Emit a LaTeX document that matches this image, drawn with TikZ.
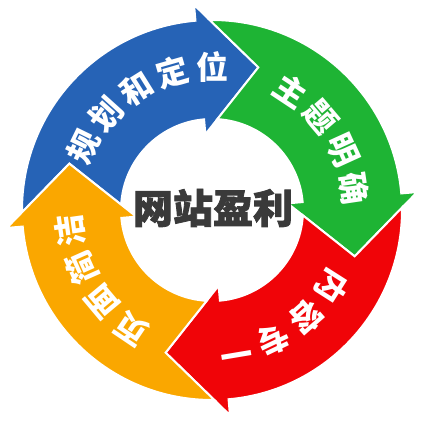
\documentclass[tikz,border=0pt]{standalone}
\usepackage{fontspec}
\newfontfamily\cjk{Noto Sans CJK SC}
\newfontfamily\cjkheavy[BoldFeatures={FakeBold=2}]{Noto Sans CJK SC}
\definecolor{cblue}{RGB}{38,99,182}
\definecolor{cgreen}{RGB}{30,180,52}
\definecolor{cred}{RGB}{240,4,8}
\definecolor{corange}{RGB}{250,167,0}
\definecolor{cgray}{RGB}{58,58,58}
\tikzset{
  arrowshape/.style={line width=2pt, draw=white, line join=miter},
  lbl/.style={text=white, font=\cjk\bfseries\fontsize{32}{32}\selectfont, inner sep=0pt},
  centertext/.style={text=cgray, font=\cjkheavy\bfseries\fontsize{40}{40}\selectfont, inner sep=0pt}
}
\begin{document}
\begin{tikzpicture}[x=1pt,y=1pt]
\useasboundingbox (0,0) rectangle (433,427);
\coordinate (O) at (212,217);
\foreach \c/\r in {cblue/0, cgreen/-90, cred/-180, corange/-270}{
  \begin{scope}[shift={(212,217)}, rotate=\r]
    \path[fill=\c, arrowshape] (180.7:190) arc[start angle=180.7, end angle=95, radius=190]
      -- (95:206) -- (72:150) -- (95:76) -- (95:91)
      arc[start angle=95, end angle=176.63, radius=91] -- (162:150) -- cycle;
  \end{scope}
}
\foreach \ch [count=\i] in {规,划,和,定,位}{
  \pgfmathsetmacro\a{154-16*(\i-1)}
  \node[lbl, rotate=\a-90] (b\i) at ([shift={(\a:143)}]O) {\ch};
}
\foreach \ch [count=\i] in {主,题,明,确}{
  \pgfmathsetmacro\a{56.5-16*(\i-1)}
  \node[lbl, rotate=\a-90] (g\i) at ([shift={(\a:143)}]O) {\ch};
}
\foreach \ch [count=\i] in {内,容,专,一}{
  \pgfmathsetmacro\a{-32.5-16*(\i-1)}
  \node[lbl, rotate=\a-90] (r\i) at ([shift={(\a:143)}]O) {\ch};
}
\foreach \ch [count=\i] in {页,面,简,洁}{
  \pgfmathsetmacro\a{236-16*(\i-1)}
  \node[lbl, rotate=\a-90] (o\i) at ([shift={(\a:143)}]O) {\ch};
}
\node[centertext] (c) at (213,219) {网站盈利};
\end{tikzpicture}
\end{document}
